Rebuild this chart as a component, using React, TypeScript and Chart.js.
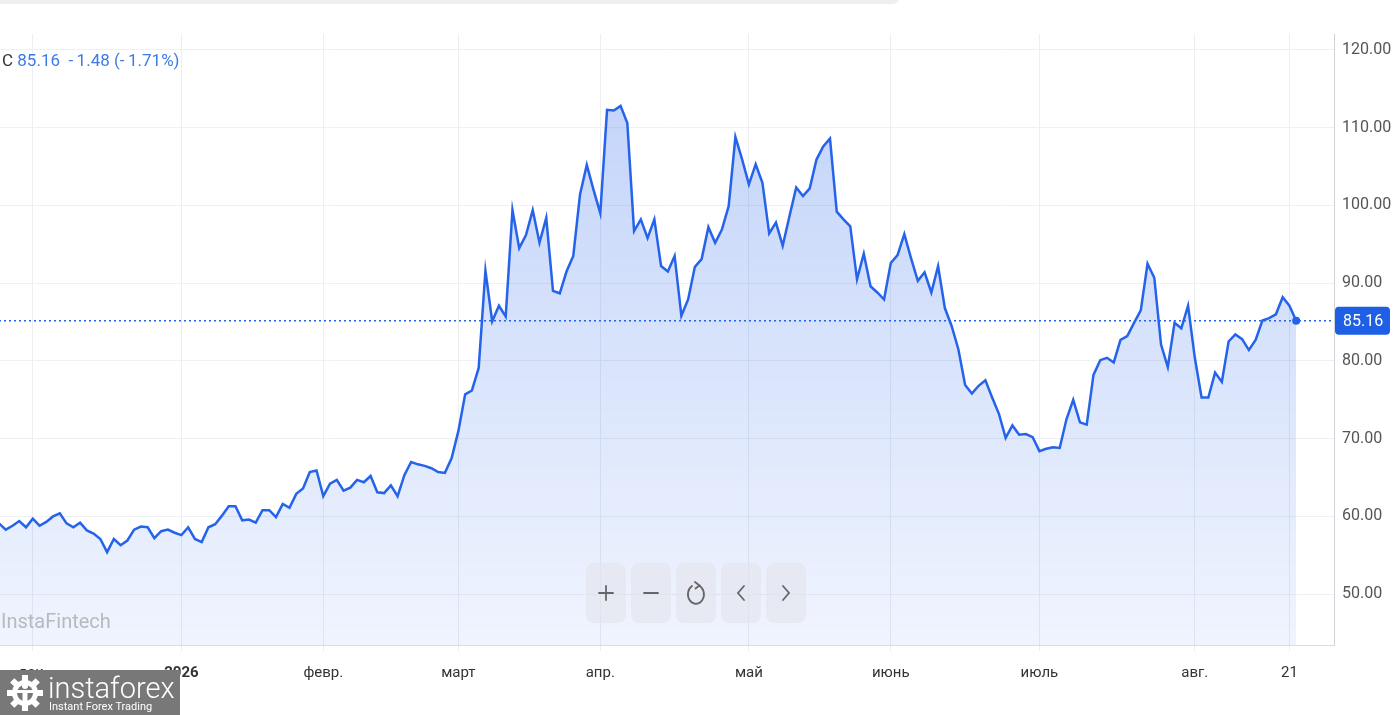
import React, { useEffect, useRef } from "react";
import { Chart, registerables } from "chart.js";

Chart.register(...registerables);

// Daily closes (oldest -> newest)
const values: number[] = [
  59.1, 58.3, 58.8, 59.4, 58.6, 59.7, 58.8, 59.3, 60.0, 60.4,
  59.1, 58.6, 59.2, 58.2, 57.8, 57.1, 55.4, 57.1, 56.3, 56.9,
  58.3, 58.7, 58.6, 57.2, 58.1, 58.3, 57.9, 57.6, 58.6, 57.1,
  56.7, 58.6, 59.0, 60.1, 61.3, 61.3, 59.5, 59.6, 59.2, 60.8,
  60.8, 59.9, 61.6, 61.1, 62.9, 63.6, 65.7, 65.9, 62.6, 64.2,
  64.7, 63.3, 63.7, 64.7, 64.4, 65.2, 63.1, 63.0, 64.0, 62.6,
  65.3, 67.0, 66.7, 66.5, 66.2, 65.7, 65.6, 67.5, 71.0, 75.7,
  76.2, 79.1, 91.6, 85.1, 87.1, 85.7, 99.4, 94.5, 96.2, 99.4,
  95.2, 98.4, 89.0, 88.7, 91.5, 93.5,
  101.4, 105.2, 102.0, 99.0, 112.3, 112.2, 112.8, 110.6, 96.7, 98.2,
  95.8, 98.2, 92.2, 91.5, 93.5, 85.8, 87.9, 92.1, 93.1, 97.2,
  95.2, 96.9, 99.9, 108.8, 105.9, 102.7, 105.3, 102.9, 96.4, 97.8,
  94.8, 98.6, 102.3, 101.2, 102.2, 105.9, 107.6, 108.6, 99.2, 98.2,
  97.3,
  90.5, 93.8, 89.6, 88.8, 87.9, 92.6, 93.6, 96.3, 93.2, 90.3,
  91.4, 88.8, 92.2, 86.8, 84.5, 81.5, 76.9, 75.8, 76.8, 77.5,
  75.3, 73.2, 70.1, 71.7, 70.5, 70.6, 70.2, 68.4, 68.7, 68.9,
  68.8,
  72.5, 75.0, 72.1, 71.8, 78.2, 80.1, 80.4, 79.8, 82.7, 83.2,
  84.9, 86.5, 92.5, 90.7, 82.1, 79.2, 84.9, 84.2, 87.1, 80.4,
  75.3, 75.3, 78.5, 77.3, 82.5, 83.4, 82.8, 81.4, 82.7, 85.2,
  85.5, 86.0, 88.2, 87.1, 85.16,
];

// X-axis tick labels and the data index where each sits
const tickLabels: string[] = ["дек.", "2026", "февр.", "март", "апр.", "май", "июнь", "июль", "авг.", "21"];
const tickIndex: number[] = [5, 27, 48, 68, 89, 111, 132, 154, 177, 191];
const boldTicks: string[] = ["2026"];

// Y-axis tick values
const yTicks: number[] = [50, 60, 70, 80, 90, 100, 110, 120];
const yMin = 43.46;
const yMax = 122.05;
const xMax = 197.6;

const lastClose = 85.16;
const change = -1.48;
const changePct = -1.71;

const LINE = "#2563eb";
const FONT = "Roboto, 'Noto Sans', sans-serif";

const fmt = (v: number) => (v < 0 ? "-\u2009" + Math.abs(v).toFixed(2) : v.toFixed(2));

const pricePlugin = {
  id: "priceLine",
  afterDraw(chart: any) {
    const { ctx, chartArea, scales } = chart;
    const y = scales.y.getPixelForValue(lastClose);
    ctx.save();
    ctx.strokeStyle = LINE;
    ctx.lineWidth = 1.5;
    ctx.setLineDash([2, 3]);
    ctx.beginPath();
    ctx.moveTo(chartArea.left, y);
    ctx.lineTo(chartArea.right, y);
    ctx.stroke();
    ctx.setLineDash([]);
    // price box
    const bx = chartArea.right + 1;
    const bw = 55;
    const bh = 28;
    ctx.fillStyle = "#1e5fe6";
    ctx.beginPath();
    (ctx as any).roundRect(bx, y - bh / 2, bw, bh, 4);
    ctx.fill();
    ctx.fillStyle = "#ffffff";
    ctx.font = `16px ${FONT}`;
    ctx.textAlign = "left";
    ctx.textBaseline = "middle";
    ctx.fillText(lastClose.toFixed(2), bx + 8, y + 1);
    ctx.restore();
  },
};

function CtrlIcon({ kind }: { kind: string }) {
  const s = { stroke: "#666", strokeWidth: 1.8, fill: "none", strokeLinecap: "round" as const };
  return (
    <svg width="26" height="30" viewBox="0 0 26 30">
      {kind === "plus" && (
        <>
          <line x1="6" y1="15" x2="20" y2="15" {...s} />
          <line x1="13" y1="8" x2="13" y2="22" {...s} />
        </>
      )}
      {kind === "minus" && <line x1="6" y1="15" x2="20" y2="15" {...s} />}
      {kind === "reload" && (
        <>
          <path d="M 16 7.5 A 8 9.5 0 1 1 9 8" {...s} />
          <path d="M 12 4 L 16.5 7.5 L 12.5 10.5" {...s} />
        </>
      )}
      {kind === "left" && <path d="M 16 8 L 10 15 L 16 22" {...s} />}
      {kind === "right" && <path d="M 10 8 L 16 15 L 10 22" {...s} />}
    </svg>
  );
}

export default function App() {
  const ref = useRef<HTMLCanvasElement | null>(null);

  useEffect(() => {
    const canvas = ref.current;
    if (!canvas) return;
    const chart = new Chart(canvas, {
      type: "line",
      data: {
        datasets: [
          {
            data: values.map((v, i) => ({ x: i, y: v })),
            borderColor: LINE,
            borderWidth: 2.5,
            tension: 0,
            fill: "start",
            backgroundColor: (c: any) => {
              const a = c.chart.chartArea;
              if (!a) return "rgba(37,99,235,0.15)";
              const g = c.chart.ctx.createLinearGradient(0, a.top + 60, 0, a.bottom);
              g.addColorStop(0, "rgba(37,99,235,0.27)");
              g.addColorStop(1, "rgba(37,99,235,0.07)");
              return g;
            },
            pointRadius: (c: any) => (c.dataIndex === values.length - 1 ? 4 : 0),
            pointBackgroundColor: LINE,
            pointBorderWidth: 0,
            pointHoverRadius: 0,
          },
        ],
      },
      options: {
        responsive: false,
        animation: false,
        devicePixelRatio: 1,
        layout: { padding: { top: 34, left: 0, right: 0, bottom: 0 } },
        plugins: { legend: { display: false }, tooltip: { enabled: false } },
        events: [],
        scales: {
          x: {
            type: "linear",
            min: 0,
            max: xMax,
            afterBuildTicks: (s: any) => {
              s.ticks = tickIndex.map((v) => ({ value: v }));
            },
            afterFit: (s: any) => {
              s.height = 70;
              s.paddingLeft = 0;
              s.paddingRight = 0;
            },
            ticks: {
              autoSkip: false,
              maxRotation: 0,
              padding: 13,
              color: "#333",
              font: (c: any) => ({
                family: FONT,
                size: 15,
                weight: boldTicks.includes(tickLabels[c.index]) ? "bold" : "normal",
              }),
              callback: (_v: any, i: number) => tickLabels[i],
            },
            grid: { color: "#eceef2", tickLength: 6, drawTicks: true, lineWidth: 1 },
            border: { color: "#d9dce1" },
          },
          y: {
            position: "right",
            min: yMin,
            max: yMax,
            afterBuildTicks: (s: any) => {
              s.ticks = yTicks.map((v) => ({ value: v }));
            },
            afterFit: (s: any) => {
              s.width = 59;
            },
            ticks: {
              padding: 8,
              color: "#555",
              font: { family: FONT, size: 16 },
              callback: (v: any) => Number(v).toFixed(2),
            },
            grid: { color: "#eef0f3", drawTicks: false },
            border: { color: "#cfd3d9" },
          },
        },
      } as any,
      plugins: [pricePlugin],
    });
    return () => chart.destroy();
  }, []);

  const ctrls = ["plus", "minus", "reload", "left", "right"];

  return (
    <div
      style={{
        position: "fixed",
        left: 0,
        top: 0,
        width: 1393,
        height: 715,
        overflow: "hidden",
        background: "#fff",
        fontFamily: FONT,
      }}
    >
      <canvas ref={ref} width={1398} height={715} style={{ position: "absolute", left: -5, top: 0, width: 1398, height: 715 }} />

      {/* top bar remnant */}
      <div
        style={{
          position: "absolute",
          left: -10,
          top: -12,
          width: 910,
          height: 16,
          borderRadius: 10,
          background: "#efefef",
        }}
      />

      {/* header */}
      <div style={{ position: "absolute", left: 2, top: 49, fontSize: 17, whiteSpace: "pre", lineHeight: "22px" }}>
        <span style={{ color: "#333" }}>C </span>
        <span style={{ color: "#3d7ae6" }}>
          {lastClose.toFixed(2)}  {fmt(change)} ({fmt(changePct)}%)
        </span>
      </div>

      {/* watermark */}
      <div style={{ position: "absolute", left: 1, top: 608, fontSize: 20, color: "#b6babf", lineHeight: "26px" }}>
        InstaFintech
      </div>

      {/* zoom controls */}
      {ctrls.map((k, i) => (
        <div
          key={k}
          style={{
            position: "absolute",
            left: 586 + i * 45,
            top: 563,
            width: 40,
            height: 60,
            borderRadius: 8,
            background: "rgba(226,229,235,0.6)",
            display: "flex",
            alignItems: "center",
            justifyContent: "center",
          }}
        >
          <CtrlIcon kind={k} />
        </div>
      ))}

      {/* logo */}
      <div
        style={{
          position: "absolute",
          left: 0,
          top: 670,
          width: 180,
          height: 45,
          background: "#787878",
          color: "#fff",
        }}
      >
        <svg width="40" height="40" viewBox="0 0 40 40" style={{ position: "absolute", left: 5, top: 3 }}>
          {[0, 45, 90, 135, 180, 225, 270, 315].map((a) => (
            <rect key={a} x="17" y="2" width="6" height="8" fill="#fff" transform={`rotate(${a} 20 20)`} />
          ))}
          <circle cx="20" cy="20" r="13" fill="#fff" />
          <circle cx="20" cy="20" r="8" fill="#787878" />
          <circle cx="20" cy="13" r="3" fill="#fff" />
          <rect x="17.5" y="17" width="5" height="14" fill="#fff" />
          <rect x="11" y="17" width="18" height="3" fill="#fff" />
        </svg>
        <div style={{ position: "absolute", left: 48, top: 2, fontSize: 29, lineHeight: "32px", fontWeight: 300 }}>
          instaforex
        </div>
        <div style={{ position: "absolute", left: 49, top: 30, fontSize: 11, lineHeight: "13px" }}>Instant Forex Trading</div>
      </div>
    </div>
  );
}
